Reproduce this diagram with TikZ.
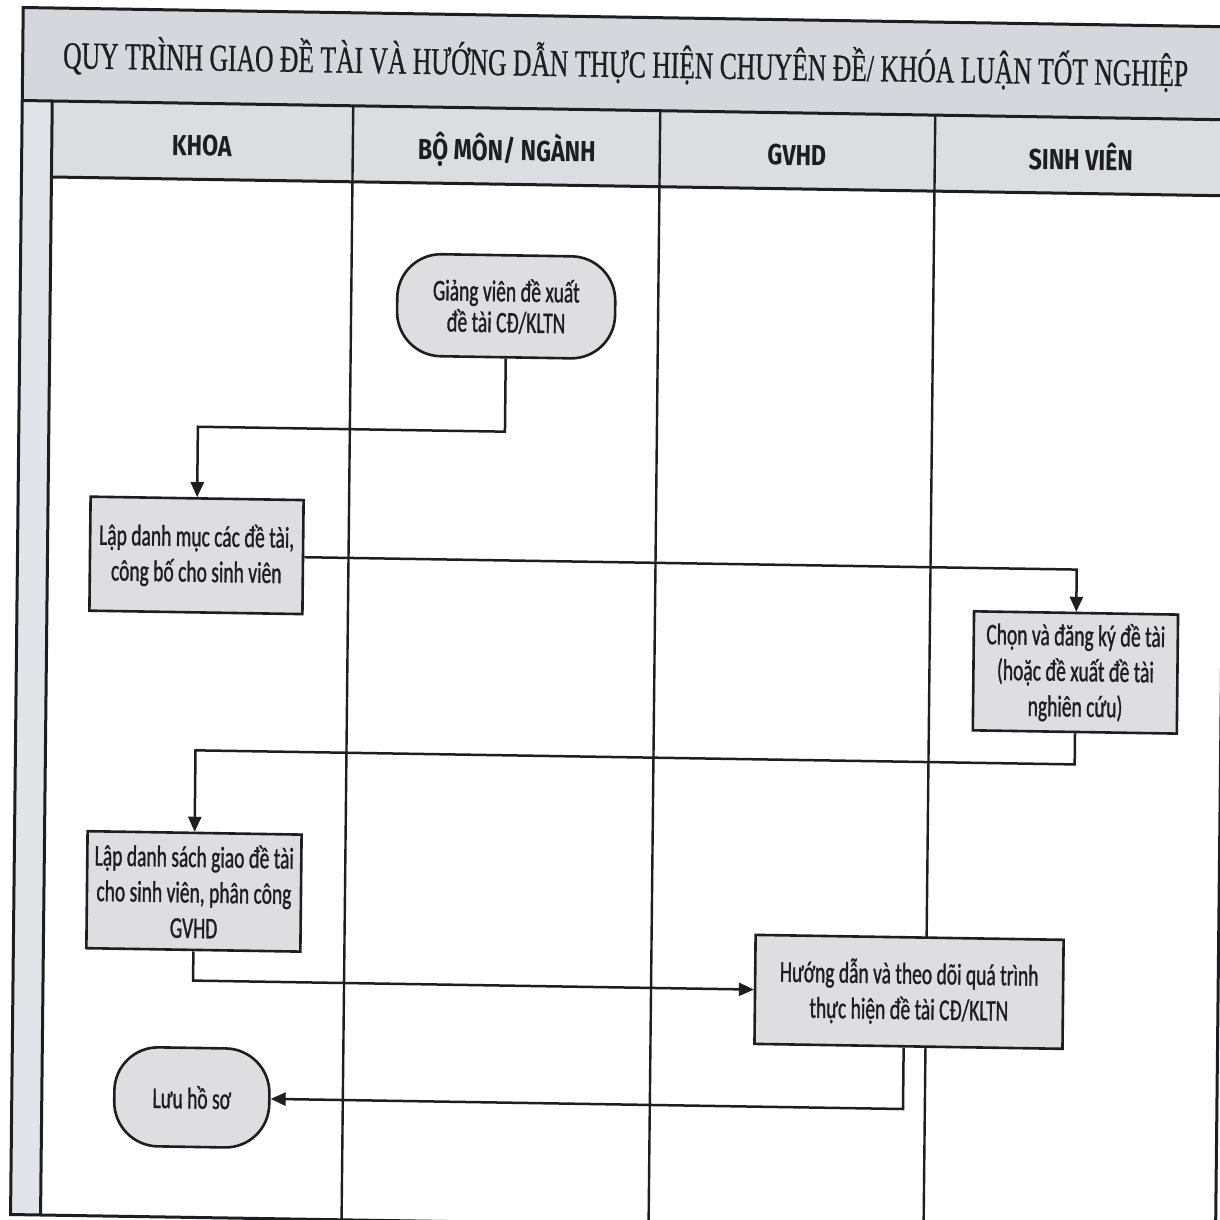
\documentclass[tikz,border=0pt]{standalone}
\usepackage{fontspec}
\usepackage{graphicx}
\usetikzlibrary{arrows.meta}
\setmainfont{Liberation Serif}
\newfontfamily\titlefont[FakeBold=0.8]{Liberation Serif}
\newfontfamily\boxfont[FakeStretch=0.65,FakeBold=1.0]{Carlito}
\newfontfamily\hdrfont[FakeStretch=0.8]{Fira Sans}
\definecolor{bandgray}{RGB}{214,215,220}
\definecolor{hdrgray}{RGB}{220,221,225}
\definecolor{stripgray}{RGB}{226,228,234}
\definecolor{boxgray}{RGB}{222,222,225}
\definecolor{ink}{RGB}{30,30,32}
\tikzset{
  frameline/.style={draw=ink,line width=3pt},
  laneline/.style={draw=ink,line width=2.4pt},
  procbox/.style={draw=ink,line width=2.6pt,fill=boxgray,rectangle,inner sep=0pt,
     align=center,text=ink,font=\boxfont\fontsize{30}{35.5}\selectfont},
  termbox/.style={procbox,rounded corners=44pt},
  hdr/.style={anchor=base,text=ink,font=\hdrfont\bfseries\fontsize{29}{34}\selectfont},
  flow/.style={draw=ink,line width=2.5pt,-{Triangle[length=15pt,width=13pt]}}
}
\begin{document}
\begin{tikzpicture}[x=1pt,y=-1pt]
\useasboundingbox (0,0) rectangle (1219,1220);
\fill[white] (0,0) rectangle (1219,1220);
\begin{scope}[shift={(610,610)},cm={1,-0.016,0.0105,1,(0,0)},shift={(-610,-610)},transform shape]
  % bands
  \fill[bandgray] (17,17) rectangle (1222,110);
  \fill[hdrgray] (47,110) rectangle (1222,186);
  \fill[stripgray] (17,110) rectangle (47,1224);
  % frame
  \draw[frameline] (17,17) rectangle (1222,1224);
  \draw[frameline] (17,110) -- (1222,110);
  \draw[frameline] (47,110) -- (47,1224);
  \draw[frameline] (47,186) -- (1222,186);
  \draw[laneline] (348,110) -- (348,1224);
  \draw[laneline] (655,110) -- (655,1224);
  \draw[laneline] (930,110) -- (930,1224);
  % title
  \node[anchor=base,inner sep=0pt,text=ink] (title) at (620,77)
    {\resizebox{1125pt}{\height}{\titlefont\fontsize{38}{42}\selectfont QUY TRÌNH GIAO ĐỀ TÀI VÀ HƯỚNG DẪN THỰC HIỆN CHUYÊN ĐỀ/ KHÓA LUẬN TỐT NGHIỆP}};
  % headers
  \node[hdr] (hkhoa) at (197,162.5) {KHOA};
  \node[hdr] (hbm) at (502,162.5) {BỘ MÔN/ NGÀNH};
  \node[hdr] (hgv) at (792,162.5) {GVHD};
  \node[hdr] (hsv) at (1076,162.5) {SINH VIÊN};
  % nodes
  \node[termbox,minimum width=218pt,minimum height=102pt,font=\boxfont\fontsize{30}{31}\selectfont] (start) at (503,308)
    {Giảng viên đề xuất\\đề tài CĐ/KLTN};
  \node[procbox,minimum width=213pt,minimum height=114pt] (b2) at (196,562)
    {Lập danh mục các đề tài,\\công bố cho sinh viên};
  \node[procbox,minimum width=204pt,minimum height=119pt] (b3) at (1076,665)
    {Chọn và đăng ký đề tài\\(hoặc đề xuất đề tài\\nghiên cứu)};
  \node[procbox,minimum width=214pt,minimum height=117pt] (b4) at (197,898)
    {Lập danh sách giao đề tài\\cho sinh viên, phân công\\GVHD};
  \node[procbox,minimum width=308pt,minimum height=109pt] (b5) at (913,987)
    {Hướng dẫn và theo dõi quá trình\\thực hiện đề tài CĐ/KLTN};
  \node[termbox,minimum width=155pt,minimum height=99pt] (luu) at (197,1104)
    {Lưu hồ sơ};
  % connectors
  \draw[flow] (start.south) -- ++(0,73) -| (b2.north);
  \draw[flow] (b2.east) -| (b3.north);
  \draw[flow] (b3.south) -- ++(0,31) -| (b4.north);
  \draw[flow] (b4.south) |- (b5.west);
  \draw[flow] ([xshift=-5pt]b5.south) |- (luu.east);
\end{scope}
\end{tikzpicture}
\end{document}
